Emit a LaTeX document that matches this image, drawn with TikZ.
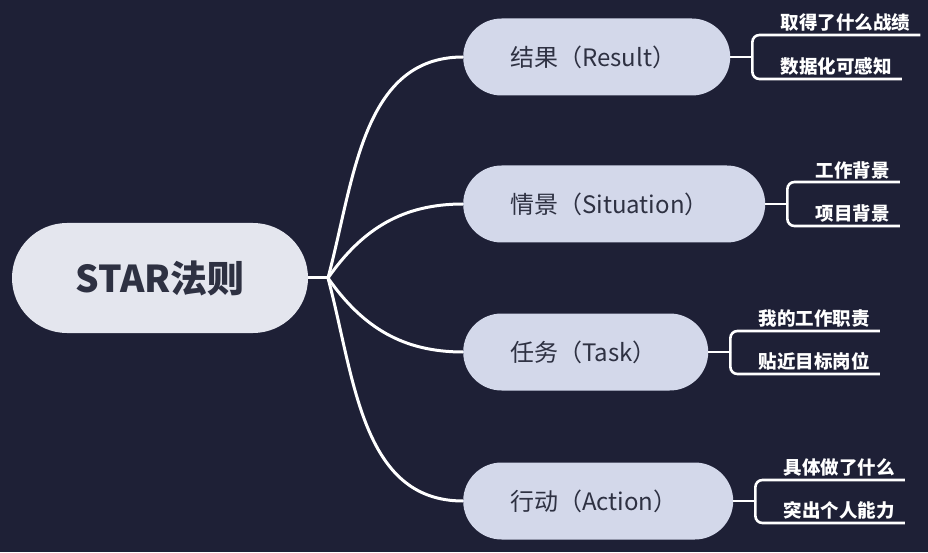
\documentclass[tikz,border=0pt]{standalone}
\usepackage{fontspec}
\setmainfont{Noto Sans CJK SC}
\definecolor{mmnavy}{RGB}{30,32,54}
\definecolor{mmroot}{RGB}{228,230,238}
\definecolor{mmpill}{RGB}{211,216,234}
\definecolor{mmink}{RGB}{46,49,66}
\usetikzlibrary{positioning}

\begin{document}
\begin{tikzpicture}[x=1pt, y=1pt,
  rootbox/.style={fill=mmroot, rounded corners=55pt, minimum width=296pt,
    minimum height=110pt, inner sep=0pt, text=mmink,
    font=\fontsize{37}{41}\selectfont\bfseries},
  topicbox/.style={fill=mmpill, rounded corners=38.5pt, minimum height=77pt,
    inner xsep=47pt, inner ysep=0pt, align=left, anchor=west, text=mmink,
    font=\fontsize{24}{28}\selectfont},
  leaf/.style={anchor=south west, inner xsep=0pt, inner ysep=3pt, text=white,
    font=\fontsize{18.5}{21}\selectfont\bfseries},
  branch/.style={draw=white, line width=3pt},
  twig/.style={draw=white, line width=2.6pt, rounded corners=7pt}]

\useasboundingbox (0,0) rectangle (928,552);
\fill[mmnavy] (0,0) rectangle (928,552);

% Root and hub
\node[rootbox] (star) at (160,274) {STAR法则};
\coordinate (hub) at (328,274);

% Topics
\node[topicbox, text width=173pt] (result) at (463,495) {结果（Result）};
\node[topicbox, text width=208pt] (situation) at (463,348) {情景（Situation）};
\node[topicbox, text width=151pt] (task) at (463,200) {任务（Task）};
\node[topicbox, text width=176pt] (action) at (463,51) {行动（Action）};

\draw[branch] (star.east) -- (hub);
\draw[branch] (hub) to[out=75, in=180] (result.west);
\draw[branch] (hub) to[out=55, in=180] (situation.west);
\draw[branch] (hub) to[out=-55, in=180] (task.west);
\draw[branch] (hub) to[out=-75, in=180] (action.west);

% Forks
\coordinate (resfork) at ([xshift=22pt]result.east);
\coordinate (sitfork) at ([xshift=22pt]situation.east);
\coordinate (taskfork) at ([xshift=22pt]task.east);
\coordinate (actfork) at ([xshift=22pt]action.east);

% Leaves
\node[leaf] (result1) at ([shift={(28pt,22pt)}]resfork) {取得了什么战绩};
\node[leaf] (result2) at ([shift={(28pt,-22pt)}]resfork) {数据化可感知};
\node[leaf] (situation1) at ([shift={(28pt,22pt)}]sitfork) {工作背景};
\node[leaf] (situation2) at ([shift={(28pt,-22pt)}]sitfork) {项目背景};
\node[leaf] (task1) at ([shift={(28pt,21pt)}]taskfork) {我的工作职责};
\node[leaf] (task2) at ([shift={(28pt,-22pt)}]taskfork) {贴近目标岗位};
\node[leaf] (action1) at ([shift={(28pt,21pt)}]actfork) {具体做了什么};
\node[leaf] (action2) at ([shift={(28pt,-22pt)}]actfork) {突出个人能力};

\draw[twig] (result.east) -- (resfork);
\draw[twig] (resfork) |- ([xshift=10pt]result1.south east);
\draw[twig] (resfork) |- ([xshift=10pt]result2.south east);
\draw[twig] (situation.east) -- (sitfork);
\draw[twig] (sitfork) |- ([xshift=10pt]situation1.south east);
\draw[twig] (sitfork) |- ([xshift=10pt]situation2.south east);
\draw[twig] (task.east) -- (taskfork);
\draw[twig] (taskfork) |- ([xshift=10pt]task1.south east);
\draw[twig] (taskfork) |- ([xshift=10pt]task2.south east);
\draw[twig] (action.east) -- (actfork);
\draw[twig] (actfork) |- ([xshift=10pt]action1.south east);
\draw[twig] (actfork) |- ([xshift=10pt]action2.south east);

\end{tikzpicture}
\end{document}
